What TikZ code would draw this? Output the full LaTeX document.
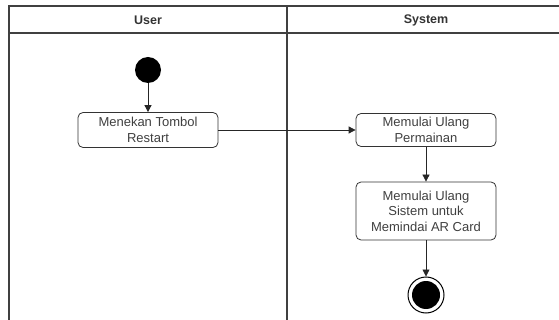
\documentclass[tikz,border=0pt]{standalone}
\usepackage{fontspec}
\setmainfont{Liberation Sans}
\usetikzlibrary{arrows.meta}
\begin{document}
\begin{tikzpicture}[x=1pt,y=-1pt,
  lane/.style={draw=black!75,line width=1.3pt},
  action/.style={draw=black!80,line width=0.8pt,rounded corners=5pt,fill=white,
    minimum width=140pt,align=center,inner sep=1pt,
    font=\fontsize{13}{15.5}\selectfont,text=black!75},
  flow/.style={draw=black!85,line width=0.8pt,-{Triangle[length=7pt,width=7pt]}},
  header/.style={font=\bfseries\fontsize{12.5}{14}\selectfont,text=black!80}]
\useasboundingbox (0,0) rectangle (559,320);
\clip (0,0) rectangle (559,320);
% swimlane frame
\draw[lane] (9,336) -- (9,6) -- (575,6);
\draw[lane] (9,33) -- (575,33);
\draw[lane] (287,6) -- (287,336);
\node[header] (huser) at (148,20) {User};
\node[header] (hsys) at (426,20) {System};
% start / end
\node[circle,fill=black,minimum size=26pt,inner sep=0pt] (start) at (148,70) {};
\node[action,minimum height=35pt] (press) at (148,130) {Menekan Tombol\\Restart};
\node[action,minimum height=33pt] (restart) at (426,130) {Memulai Ulang\\Permainan};
\node[action,minimum height=58pt] (scan) at (426,211) {Memulai Ulang\\Sistem untuk\\Memindai AR Card};
\node[circle,draw=black,line width=1pt,minimum size=36pt,inner sep=0pt] (end) at (426,295) {};
\node[circle,fill=black,minimum size=28pt,inner sep=0pt] (endin) at (426,295) {};
% flows
\draw[flow] (start) -- (press);
\draw[flow] (press) -- (restart);
\draw[flow] (restart) -- (scan);
\draw[flow] (scan) -- (end);
\end{tikzpicture}
\end{document}
